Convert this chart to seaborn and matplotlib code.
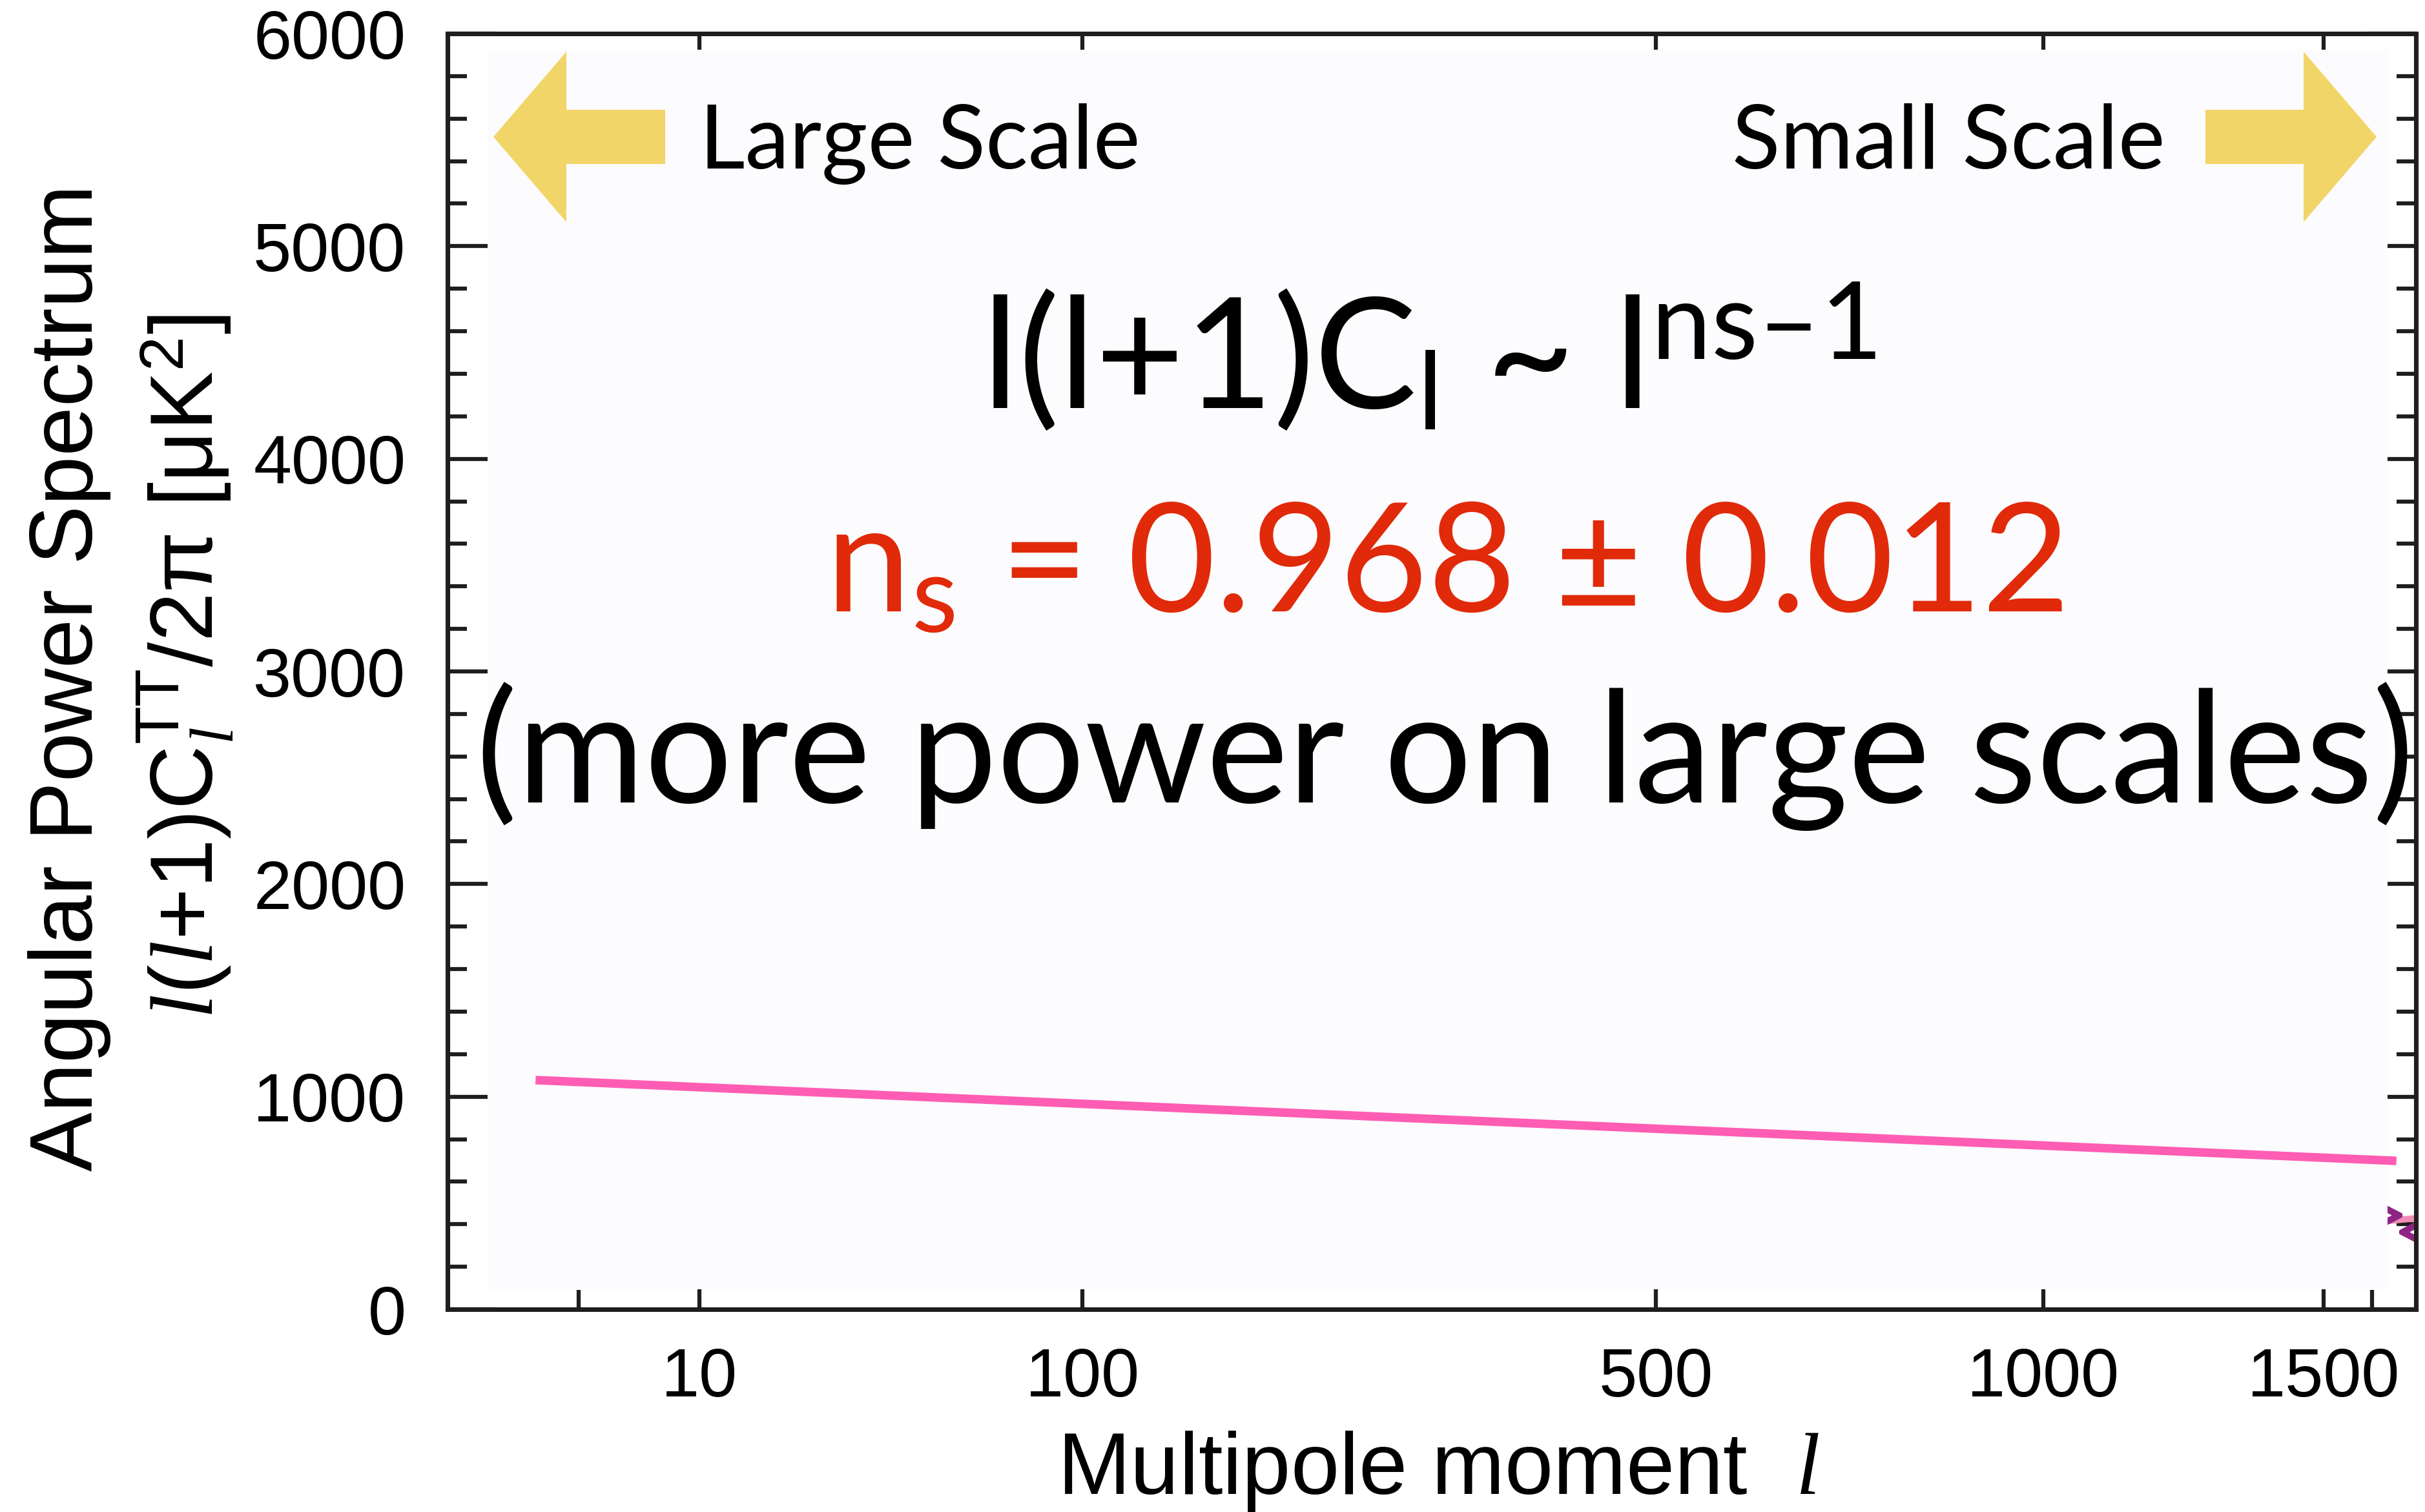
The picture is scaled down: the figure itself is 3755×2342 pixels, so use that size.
import numpy as np
import matplotlib
matplotlib.use("Agg")
import matplotlib.pyplot as plt
import seaborn as sns
from matplotlib.ticker import FixedLocator, FixedFormatter, MultipleLocator
from matplotlib.patches import Rectangle, Polygon

# ---------------- data ----------------
ell_line = [3.7, 1667]          # multipole moment of the pink power-law line
dl_line = [1078, 698]           # l(l+1)C_l/2pi [muK^2]
ell_bg = [1648, 1715]           # faint pink remnant of the theory curve
dl_bg = [416, 428]
ell_pt_a = [1652]               # purple data-point remnants
dl_pt_a = [443]
ell_pt_b = [1702]
dl_pt_b = [363]
x_major = [10, 100, 500, 1000, 1500]
x_major_labels = ["10", "100", "500", "1000", "1500"]
x_minor = [5, 1609]
y_major = [0, 1000, 2000, 3000, 4000, 5000, 6000]
y_major_labels = ["0", "1000", "2000", "3000", "4000", "5000", "6000"]

# ---------------- figure geometry ----------------
W, H, DPI = 3755, 2342, 300
AX_L, AX_R, AX_T, AX_B = 693, 3741, 52, 2028

sns.set_style("ticks")
plt.rcParams["font.family"] = ["Liberation Sans", "DejaVu Sans"]
plt.rcParams["mathtext.fontset"] = "custom"
plt.rcParams["mathtext.rm"] = "Lato"
plt.rcParams["mathtext.it"] = "Liberation Serif:italic"
plt.rcParams["mathtext.sf"] = "Liberation Sans"
for k in ("text.color", "axes.labelcolor", "xtick.color", "ytick.color"):
    plt.rcParams[k] = "black"

fig = plt.figure(figsize=(W / DPI, H / DPI), dpi=DPI)
fig.patch.set_facecolor("white")
ax = fig.add_axes([AX_L / W, 1 - AX_B / H, (AX_R - AX_L) / W, (AX_B - AX_T) / H])
ax.set_facecolor("white")


def axpt(px, py):
    return ((px - AX_L) / (AX_R - AX_L), (AX_B - py) / (AX_B - AX_T))


# custom multipole axis (log at low l, stretched at high l)
ANCH_L = np.log10([2, 5, 10, 100, 500, 1000, 1500, 1715])
ANCH_F = np.array([axpt(p, 0)[0] for p in [693, 896, 1083, 1676, 2564, 3164, 3598, 3741]])


def fwd(v):
    v = np.asarray(v, dtype=float)
    return np.interp(np.log10(np.maximum(v, 1e-9)), ANCH_L, ANCH_F,
                     left=ANCH_F[0] - 1, right=ANCH_F[-1] + 1)


def inv(f):
    f = np.asarray(f, dtype=float)
    return 10 ** np.interp(f, ANCH_F, ANCH_L)


ax.set_xscale("function", functions=(fwd, inv))

# hidden remnants (under the cover)
ax.plot(ell_bg, dl_bg, color="#F08DB5", lw=2.4, zorder=1, solid_capstyle="butt")
ax.plot(ell_pt_a, dl_pt_a, ls="none", marker=r"$>$", ms=9, color="#8E2585", zorder=1)
ax.plot(ell_pt_b, dl_pt_b, ls="none", marker=r"$<$", ms=9, color="#8E2585", zorder=1)

# cover panel
x0, y1 = axpt(755, 77)
x1, y0 = axpt(3697, 1997)
ax.add_patch(Rectangle((x0, y0), x1 - x0, y1 - y0, transform=ax.transAxes,
                       facecolor="#FCFCFF", edgecolor="none", zorder=2))

sns.lineplot(x=ell_line, y=dl_line, color="#FF5DB4", linewidth=3.2, ax=ax,
             zorder=3, solid_capstyle="butt")

ax.set_xlim(2, 1715)
ax.set_ylim(0, 6000)
ax.set_axisbelow(True)

ax.xaxis.set_major_locator(FixedLocator(x_major))
ax.xaxis.set_major_formatter(FixedFormatter(x_major_labels))
ax.xaxis.set_minor_locator(FixedLocator(x_minor))
ax.yaxis.set_major_locator(FixedLocator(y_major))
ax.yaxis.set_major_formatter(FixedFormatter(y_major_labels))
ax.yaxis.set_minor_locator(MultipleLocator(200))

ax.tick_params(axis="both", which="both", direction="in", width=1.5, color="#1e1e1e",
               labelcolor="black")
ax.tick_params(axis="x", which="major", top=True, bottom=True, length=18, pad=14,
               labelsize=25.5)
ax.tick_params(axis="x", which="minor", top=False, bottom=True, length=7.2)
ax.tick_params(axis="y", which="major", left=True, right=True, length=18, pad=15.5,
               labelsize=25.5)
ax.tick_params(axis="y", which="minor", left=True, right=True, length=7.2)
mt = ax.xaxis.get_minor_ticks()
mt[1].tick1line.set_color("#E0301E")

for s in ax.spines.values():
    s.set_visible(True)
    s.set_linewidth(1.7)
    s.set_color("#1e1e1e")

# axis labels
ax.set_xlabel(r"Multipole moment  $\mathit{l}$", fontsize=32.5, va="top", color="black")
ax.xaxis.set_label_coords(axpt(2227, 0)[0], axpt(0, 2214)[1])
ax.set_ylabel("Angular Power Spectrum", fontsize=33, va="baseline", color="black",
              rotation=90, rotation_mode="anchor", ha="center")
ax.yaxis.set_label_coords(*axpt(143, 1050))
ax.text(*axpt(330, 1032),
        r"$\mathit{l}$($\mathit{l}$+1)$\mathsf{C}_{\mathit{l}}^{\mathsf{TT}}$/2π [μK$^{\mathsf{2}}$]",
        transform=ax.transAxes, fontsize=33, rotation=90, rotation_mode="anchor",
        ha="center", va="baseline", clip_on=False, color="black")

# arrows
gold = "#F2D568"
left_arrow = [(764, 212), (877, 80), (877, 170), (1030, 170), (1030, 254),
              (877, 254), (877, 344)]
right_arrow = [(3680, 212), (3567, 80), (3567, 170), (3415, 170), (3415, 254),
               (3567, 254), (3567, 344)]
for arr in (left_arrow, right_arrow):
    ax.add_patch(Polygon([axpt(*p) for p in arr], closed=True, transform=ax.transAxes,
                         facecolor=gold, edgecolor="none", zorder=4))

ax.text(*axpt(1083, 261), "Large Scale", transform=ax.transAxes, family="Lato",
        fontsize=33, ha="left", va="baseline", zorder=5, color="black")
ax.text(*axpt(3352, 261), "Small Scale", transform=ax.transAxes, family="Lato",
        fontsize=33, ha="right", va="baseline", zorder=5, color="black")

ax.text(*axpt(2212, 632),
        "l(l+1)$\\mathrm{C}_{\\mathrm{l}}$ ~ $\\mathrm{l}^{\\mathrm{ns\u20131}}$",
        transform=ax.transAxes, family="Lato", fontsize=57, ha="center",
        va="baseline", zorder=5, color="black")
ax.text(*axpt(2236, 948), r"$\mathrm{n}_{\mathrm{s}}$ = 0.968 ± 0.012",
        transform=ax.transAxes, family="Lato", fontsize=56.5, color="#E12A0A",
        ha="center", va="baseline", zorder=5)
ax.text(*axpt(2238, 1243), "(more power on large scales)", transform=ax.transAxes,
        family="Lato", fontsize=57.5, ha="center", va="baseline", zorder=5,
        clip_on=False, color="black")

fig.savefig("out.png", dpi=DPI)
